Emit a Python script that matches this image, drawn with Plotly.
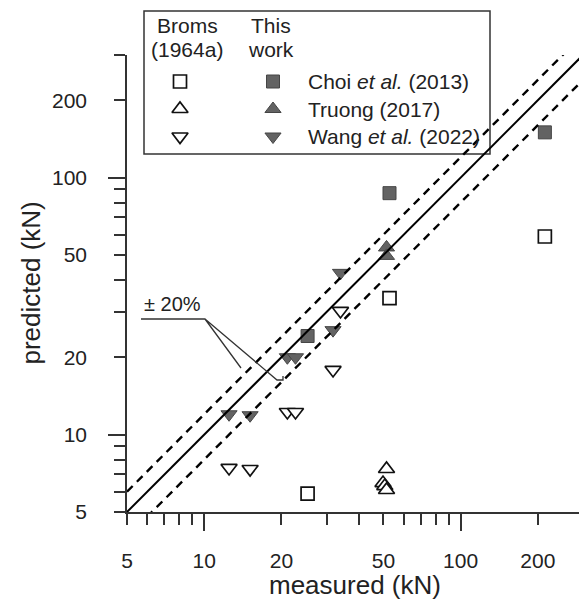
import math
import plotly.graph_objects as go

# ---- data (measured, predicted) in kN ----
choi_measured = [25.3, 52.8, 213]
choi_this_work = [24.2, 87, 150]
choi_broms = [5.9, 34, 59]

truong_measured_tw = [51.4, 51.4]
truong_this_work = [53.5, 49.6]
truong_measured_br = [51.4, 49.8, 50.6, 51.4]
truong_broms = [7.35, 6.48, 6.31, 6.09]

wang_measured = [34.0, 31.8, 21.1, 22.7, 12.5, 15.1]
wang_this_work = [42.6, 25.5, 20.0, 20.0, 12.0, 11.9]
wang_broms = [30.3, 17.85, 12.25, 12.25, 7.42, 7.35]

axis_min, axis_max = 5, 300
tick_vals = [5, 10, 20, 50, 100, 200]
tick_text = ["5", "10", "20", "50", "100", "200"]
minor_vals = [6, 7, 8, 9, 30, 40, 60, 70, 80, 90, 300]
decade_vals = [10, 100]
tolerance = 0.20

legend_rows = ["Choi <i>et al.</i> (2013)", "Truong (2017)", "Wang <i>et al.</i> (2022)"]
legend_symbols = ["square", "triangle-up", "triangle-down"]

FONT = "Liberation Sans, Arial, sans-serif"
AX = "#333333"
FILL = "#636363"
FILL_EDGE = "#454545"

W, H = 587, 600
OFF = 8  # page body margin
L, R, T, B = 119, 12, 47, 96
PW, PH = W - L - R, H - T - B
X0, Y0 = L + OFF, T + OFF + PH  # plot-area origin in screen pixels


def px(xs):
    return (xs - X0) / PW


def py(ys):
    return (Y0 - ys) / PH


fig = go.Figure()

# reference lines
line_x = [axis_min, axis_max]
fig.add_trace(go.Scatter(x=line_x, y=[v * (1 + tolerance) for v in line_x], mode="lines",
                         line=dict(color="black", width=2.4, dash="8px,6px"), xaxis="x2", yaxis="y2",
                         hoverinfo="skip"))
fig.add_trace(go.Scatter(x=line_x, y=[v * (1 - tolerance) for v in line_x], mode="lines",
                         line=dict(color="black", width=2.4, dash="8px,6px"), xaxis="x2", yaxis="y2",
                         hoverinfo="skip"))
fig.add_trace(go.Scatter(x=line_x, y=line_x, mode="lines",
                         line=dict(color="black", width=2), xaxis="x2", yaxis="y2", hoverinfo="skip"))

open_marker = lambda sym, size: dict(symbol=sym, size=size, color="white", line=dict(color="#111111", width=1.7))
filled_marker = lambda sym, size: dict(symbol=sym, size=size, color=FILL, line=dict(color=FILL_EDGE, width=1))

SQ, TR = 13, 14

# Broms (open)
fig.add_trace(go.Scatter(x=choi_measured, y=choi_broms, mode="markers", marker=open_marker("square", SQ)))
fig.add_trace(go.Scatter(x=truong_measured_br, y=truong_broms, mode="markers", marker=open_marker("triangle-up", TR)))
fig.add_trace(go.Scatter(x=wang_measured, y=wang_broms, mode="markers", marker=open_marker("triangle-down", TR)))
# This work (filled)
fig.add_trace(go.Scatter(x=choi_measured, y=choi_this_work, mode="markers", marker=filled_marker("square", SQ)))
fig.add_trace(go.Scatter(x=truong_measured_tw, y=truong_this_work, mode="markers", marker=filled_marker("triangle-up", TR)))
fig.add_trace(go.Scatter(x=wang_measured, y=wang_this_work, mode="markers", marker=filled_marker("triangle-down", TR)))

# legend samples on a small helper axis
rows = list(range(len(legend_rows)))
for sym, r in zip(legend_symbols, rows):
    fig.add_trace(go.Scatter(x=[0], y=[r], mode="markers", marker=open_marker(sym, SQ if sym == "square" else TR),
                             xaxis="x3", yaxis="y3", cliponaxis=False, hoverinfo="skip"))
    fig.add_trace(go.Scatter(x=[1], y=[r], mode="markers", marker=filled_marker(sym, SQ if sym == "square" else TR),
                             xaxis="x3", yaxis="y3", cliponaxis=False, hoverinfo="skip"))

rng = [math.log10(axis_min), math.log10(axis_max)]
tickfont = dict(family=FONT, size=21, color="#222222")

common = dict(type="log", range=rng, showgrid=False, zeroline=False, showline=True, automargin=False,
              linecolor=AX, linewidth=1.5, ticks="outside", ticklen=11, tickwidth=1.5,
              tickcolor=AX, tickvals=tick_vals, ticktext=tick_text, tickfont=tickfont,
              minor=dict(tickvals=minor_vals, ticks="outside", ticklen=11, tickwidth=1.5,
                         tickcolor=AX, showgrid=False))
overlay = dict(type="log", range=rng, showgrid=False, zeroline=False, showline=False, automargin=False,
               ticks="outside", ticklen=18, tickwidth=1.5, tickcolor=AX, tickvals=decade_vals,
               showticklabels=False)

txt = lambda s: dict(family=FONT, size=s, color="#222222")
annotations = [
    dict(text="Broms", x=px(187), y=py(25), xref="paper", yref="paper", showarrow=False,
         xanchor="center", yanchor="middle", font=txt(21)),
    dict(text="(1964a)", x=px(187), y=py(50), xref="paper", yref="paper", showarrow=False,
         xanchor="center", yanchor="middle", font=txt(21)),
    dict(text="This", x=px(271), y=py(25), xref="paper", yref="paper", showarrow=False,
         xanchor="center", yanchor="middle", font=txt(21)),
    dict(text="work", x=px(271), y=py(50), xref="paper", yref="paper", showarrow=False,
         xanchor="center", yanchor="middle", font=txt(21)),
    dict(text="± 20%", x=px(172.5), y=py(304), xref="paper", yref="paper", showarrow=False,
         xanchor="center", yanchor="middle", font=txt(20)),
    dict(text="measured (kN)", x=0.5, y=py(585), xref="paper", yref="paper", showarrow=False,
         xanchor="center", yanchor="middle", font=txt(26)),
    dict(text="predicted (kN)", x=px(30), y=0.5, xref="paper", yref="paper", showarrow=False,
         textangle=-90, xanchor="center", yanchor="middle", font=txt(26)),
]
for label, r in zip(legend_rows, rows):
    annotations.append(dict(text=label, x=1, y=r, xref="x3", yref="y3", showarrow=False,
                            xanchor="left", yanchor="middle", xshift=33, font=txt(21)))

leader = (f"M {px(141)} {py(319)} L {px(205)} {py(319)} L {px(241)} {py(368)} "
          f"M {px(205)} {py(319)} L {px(277)} {py(380)} L {px(283)} {py(380)} L {px(283)} {py(376)}")

shapes = [
    dict(type="rect", xref="paper", yref="paper", x0=px(144), x1=px(490), y0=py(154), y1=py(11),
         line=dict(color="#333333", width=1.5), fillcolor="white", layer="below"),
    dict(type="path", xref="paper", yref="paper", path=leader, line=dict(color="#333333", width=1.3)),
]

fig.update_layout(
    width=W, height=H, margin=dict(l=L, r=R, t=T, b=B, autoexpand=False),
    paper_bgcolor="white", plot_bgcolor="rgba(0,0,0,0)", showlegend=False,
    font=dict(family=FONT, color="#222222"),
    xaxis=dict(**common, ticklabelstandoff=18),
    yaxis=dict(**common, ticklabelstandoff=23),
    xaxis2=dict(**overlay, overlaying="x", anchor="y", side="bottom"),
    yaxis2=dict(**overlay, overlaying="y", anchor="x", side="left"),
    xaxis3=dict(domain=[px(180), px(273)], range=[0, 1], anchor="y3", visible=False, fixedrange=True),
    yaxis3=dict(domain=[py(136.5), py(81.5)], range=[2, 0], anchor="x3", visible=False, fixedrange=True),
    annotations=annotations, shapes=shapes,
)

fig.write_html("out.html")
